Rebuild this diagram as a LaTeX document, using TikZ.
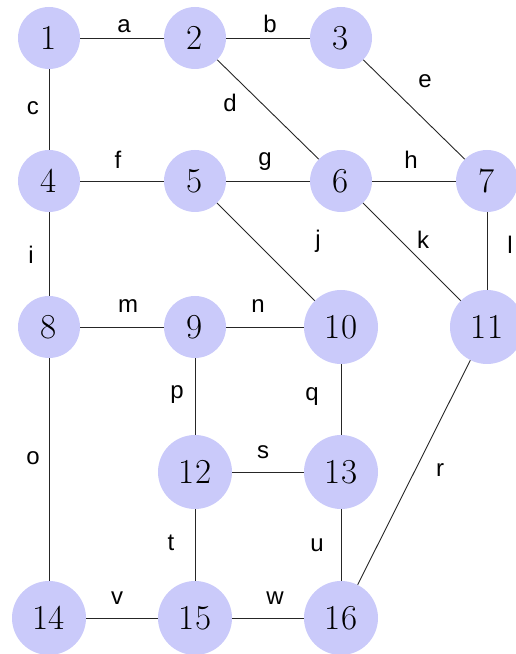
\documentclass[tikz,border=0pt]{standalone}
\usepackage{fontspec}
\newfontfamily\labfont{Liberation Sans}
\definecolor{vfill}{RGB}{202,202,250}
\begin{document}
\begin{tikzpicture}[x=1pt,y=1pt,
  vtx/.style={circle,fill=vfill,draw=none,inner sep=0pt,minimum size=62pt,font=\fontsize{35}{40}\selectfont},
  vtxb/.style={vtx,minimum size=74pt},
  lab/.style={font=\labfont\fontsize{24}{28}\selectfont,inner sep=0pt},
  edge/.style={draw=black!85,line width=0.9pt}]
\useasboundingbox (0,0) rectangle (516,654);
% vertices (y = 654 - pixel y)
\node[vtx]  (n1)  at (49,616)  {1};
\node[vtx]  (n2)  at (195,616) {2};
\node[vtx]  (n3)  at (341,616) {3};
\node[vtx]  (n4)  at (49,473)  {4};
\node[vtx]  (n5)  at (195,473) {5};
\node[vtx]  (n6)  at (341,473) {6};
\node[vtx]  (n7)  at (487,473) {7};
\node[vtx]  (n8)  at (49,327)  {8};
\node[vtx]  (n9)  at (195,327) {9};
\node[vtxb] (n10) at (341,327) {10};
\node[vtxb] (n11) at (487,327) {11};
\node[vtxb] (n12) at (195,182) {12};
\node[vtxb] (n13) at (341,182) {13};
\node[vtxb] (n14) at (49,36)   {14};
\node[vtxb] (n15) at (195,36)  {15};
\node[vtxb] (n16) at (341,36)  {16};
% edges
\draw[edge] (n1) -- (n2);
\draw[edge] (n2) -- (n3);
\draw[edge] (n1) -- (n4);
\draw[edge] (n2) -- (n6);
\draw[edge] (n3) -- (n7);
\draw[edge] (n4) -- (n5);
\draw[edge] (n5) -- (n6);
\draw[edge] (n6) -- (n7);
\draw[edge] (n4) -- (n8);
\draw[edge] (n5) -- (n10);
\draw[edge] (n6) -- (n11);
\draw[edge] (n7) -- (n11);
\draw[edge] (n8) -- (n9);
\draw[edge] (n9) -- (n10);
\draw[edge] (n8) -- (n14);
\draw[edge] (n9) -- (n12);
\draw[edge] (n10) -- (n13);
\draw[edge] (n11) -- (n16);
\draw[edge] (n12) -- (n13);
\draw[edge] (n12) -- (n15);
\draw[edge] (n13) -- (n16);
\draw[edge] (n14) -- (n15);
\draw[edge] (n15) -- (n16);
% edge labels
\node[lab] (la) at (124,628) {a};
\node[lab] (lb) at (270,630) {b};
\node[lab] (lc) at (33,546)  {c};
\node[lab] (ld) at (230,551) {d};
\node[lab] (le) at (425,573) {e};
\node[lab] (lf) at (118,494) {f};
\node[lab] (lg) at (265,492) {g};
\node[lab] (lh) at (411,494) {h};
\node[lab] (li) at (31,399)  {i};
\node[lab] (lj) at (318,413) {j};
\node[lab] (lk) at (423,414) {k};
\node[lab] (ll) at (510,409) {l};
\node[lab] (lm) at (128,348) {m};
\node[lab] (ln) at (258,348) {n};
\node[lab] (lo) at (33,196)  {o};
\node[lab] (lp) at (177,259) {p};
\node[lab] (lq) at (312,257) {q};
\node[lab] (lr) at (440,184) {r};
\node[lab] (ls) at (263,202) {s};
\node[lab] (lt) at (171,111) {t};
\node[lab] (lu) at (317,109) {u};
\node[lab] (lv) at (117,56)  {v};
\node[lab] (lw) at (275,56)  {w};
\end{tikzpicture}
\end{document}
